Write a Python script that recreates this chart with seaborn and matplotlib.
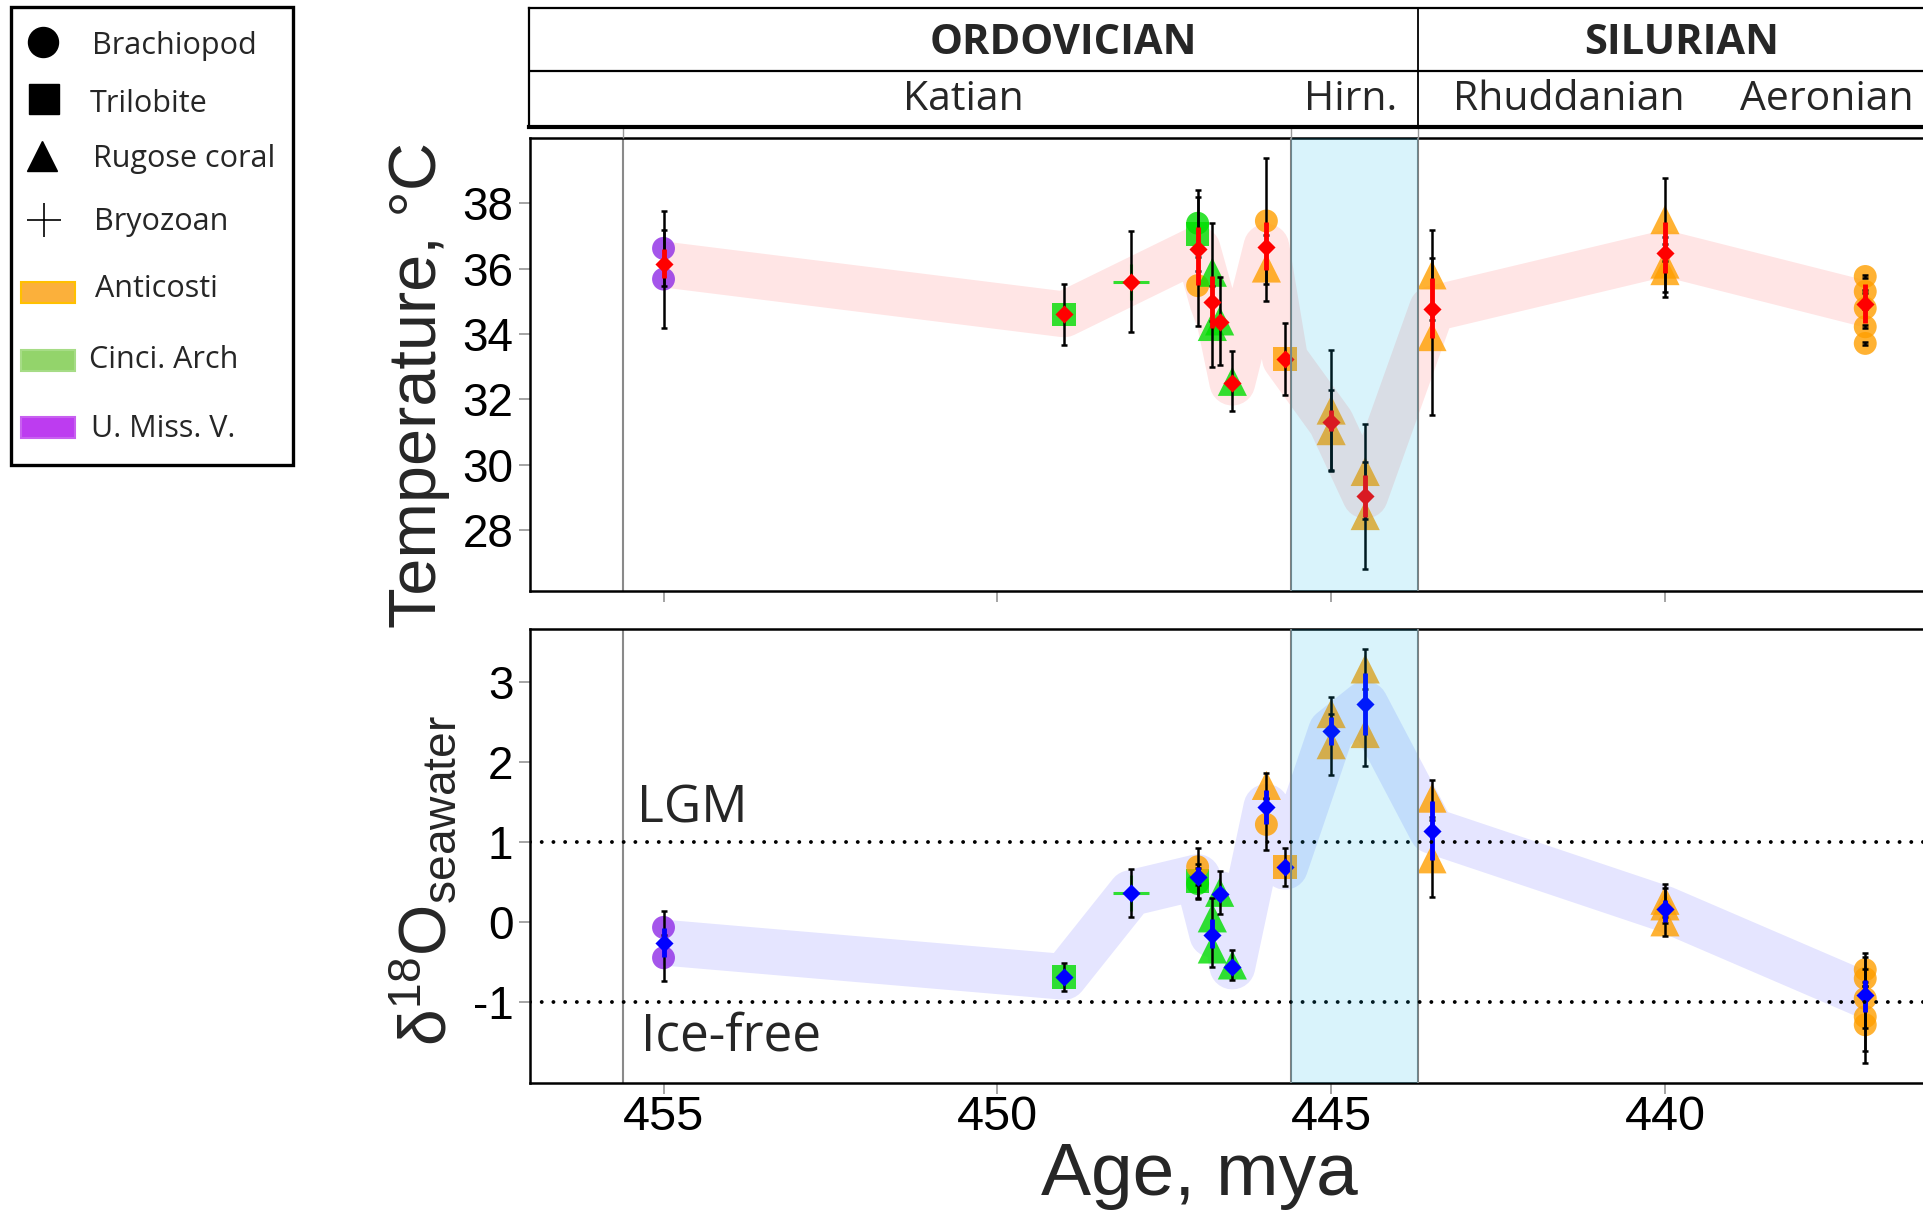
import numpy as np
import pandas as pd
import matplotlib.pyplot as plt
import matplotlib.patches as patches
import seaborn as sns

# Group means (age in Ma)
ages = [455.0, 449.0, 448.0, 447.0, 446.78, 446.67, 446.48, 445.97, 445.69,
        445.0, 444.49, 443.49, 440.0, 437.0]
temp_mean = [36.13, 34.60, 35.60, 36.60, 34.99, 34.38, 32.51, 36.67, 33.24,
             31.29, 29.05, 34.77, 36.47, 34.92]
temp_lo = [35.70, 34.60, 35.60, 35.50, 34.17, 34.38, 32.51, 35.96, 33.24,
           31.04, 28.41, 33.87, 35.86, 34.33]
temp_hi = [36.60, 34.60, 35.60, 37.29, 35.76, 34.38, 32.51, 37.44, 33.24,
           31.67, 29.68, 35.70, 37.44, 35.53]
d18o_mean = [-0.26, -0.69, 0.36, 0.56, -0.16, 0.35, -0.56, 1.44, 0.69,
             2.39, 2.73, 1.14, 0.16, -0.92]
d18o_lo = [-0.44, -0.69, 0.36, 0.50, -0.33, 0.35, -0.56, 1.22, 0.69,
           2.22, 2.34, 0.78, 0.00, -1.13]
d18o_hi = [-0.08, -0.69, 0.36, 0.69, 0.03, 0.35, -0.56, 1.65, 0.69,
           2.57, 3.12, 1.51, 0.27, -0.73]

# Individual specimens
spec_age = [455.0, 455.0, 449.0, 448.0, 447.0, 447.0, 447.0, 446.78, 446.78,
            446.67, 446.48, 445.97, 445.97, 445.69, 445.0, 445.0, 444.49,
            444.49, 443.49, 443.49, 440.0, 440.0, 440.0,
            437.0, 437.0, 437.0, 437.0, 437.0]
spec_taxon = (['Brachiopod', 'Brachiopod', 'Trilobite', 'Bryozoan',
               'Brachiopod', 'Trilobite', 'Brachiopod']
              + ['Rugose coral'] * 4
              + ['Brachiopod', 'Rugose coral', 'Trilobite']
              + ['Rugose coral'] * 9 + ['Brachiopod'] * 5)
spec_site = (['U. Miss. V.'] * 2 + ['Cinci. Arch'] * 4 + ['Anticosti']
             + ['Cinci. Arch'] * 4 + ['Anticosti'] * 17)
spec_temp = [36.62, 35.68, 34.60, 35.60, 37.39, 37.06, 35.48, 35.89, 34.23,
             34.40, 32.55, 37.46, 36.02, 33.24, 31.67, 31.04, 29.79, 28.44,
             35.81, 33.92, 37.50, 36.14, 35.94, 35.76, 35.30, 34.79, 34.22,
             33.71]
spec_temp_err = [1.15, 1.50, 0.94, 1.55, 1.02, 1.12, 1.24, 1.50, 1.25, 1.34,
                 0.92, 1.92, 1.00, 1.10, 1.84, 1.25, 1.45, 1.64, 1.37, 2.40,
                 1.27, 0.84, 0.80, 0.04, 0.04, 0.04, 0.04, 0.04]
spec_d18o = [-0.07, -0.45, -0.69, 0.36, 0.48, 0.51, 0.69, 0.05, -0.34, 0.37,
             -0.54, 1.22, 1.71, 0.69, 2.61, 2.22, 3.17, 2.36, 1.55, 0.79,
             0.00, 0.20, 0.27, -0.60, -0.71, -0.96, -1.19, -1.29]
spec_d18o_err = [0.20, 0.29, 0.18, 0.30, 0.20, 0.21, 0.23, 0.25, 0.22, 0.27,
                 0.19, 0.32, 0.16, 0.24, 0.21, 0.38, 0.25, 0.41, 0.23, 0.48,
                 0.18, 0.22, 0.21, 0.21, 0.27, 0.37, 0.43, 0.48]

site_colors = {'Anticosti': '#ff9f00', 'Cinci. Arch': '#00dd00',
               'U. Miss. V.': '#8f2be6'}
taxon_markers = {'Brachiopod': 'o', 'Trilobite': 's', 'Rugose coral': '^'}
taxon_sizes = {'Brachiopod': 272, 'Trilobite': 289, 'Rugose coral': 441}

periods = ['ORDOVICIAN', 'SILURIAN']
period_x = [449.0, 439.75]
stages = ['Katian', 'Hirn.', 'Rhuddanian', 'Aeronian']
stage_x = [450.5, 444.7, 441.43, 437.58]

hirn_start, hirn_end = 445.6, 443.7
XLIM = (457, 436.12)

df = pd.DataFrame({'age': spec_age, 'taxon': spec_taxon, 'site': spec_site,
                   'temp': spec_temp, 'temp_err': spec_temp_err,
                   'd18o': spec_d18o, 'd18o_err': spec_d18o_err})
groups = pd.DataFrame({'age': ages, 'temp': temp_mean, 'temp_lo': temp_lo,
                       'temp_hi': temp_hi, 'd18o': d18o_mean,
                       'd18o_lo': d18o_lo, 'd18o_hi': d18o_hi})

sns.set_style('ticks')
plt.rcParams['font.family'] = ['Liberation Sans', 'DejaVu Sans']
plt.rcParams['mathtext.fontset'] = 'custom'
plt.rcParams['mathtext.rm'] = 'Liberation Sans'
plt.rcParams['mathtext.it'] = 'Liberation Sans:italic'
MYRIAD = ['Open Sans', 'DejaVu Sans']

W, H = 1924, 1211
fig = plt.figure(figsize=(W / 100, H / 100), dpi=100)


def panel(ax, col, mean_color):
    # broad band through the group means
    ax.plot(groups['age'], groups[col], color=mean_color, alpha=0.1, lw=33,
            solid_joinstyle='round', solid_capstyle='butt', zorder=1)
    filled = df[df['taxon'] != 'Bryozoan']
    sns.scatterplot(data=filled, x='age', y=col, hue='site', style='taxon',
                    size='taxon', palette=site_colors, markers=taxon_markers,
                    sizes=taxon_sizes, alpha=0.8, linewidth=0, legend=False,
                    ax=ax, zorder=3)
    bry = df[df['taxon'] == 'Bryozoan']
    for _, r in bry.iterrows():
        ax.plot(r['age'], r[col], '+', ms=26, mew=2.2, alpha=0.8,
                color=site_colors[r['site']], zorder=3)
    ax.errorbar(df['age'], df[col], yerr=df[col + '_err'], fmt='none',
                ecolor='black', elinewidth=1.8, capsize=2.5, capthick=1.8,
                zorder=4)
    ax.errorbar(groups['age'], groups[col],
                yerr=[groups[col] - groups[col + '_lo'],
                      groups[col + '_hi'] - groups[col]],
                fmt='none', ecolor=mean_color, elinewidth=3.5, zorder=5)
    ax.scatter(groups['age'], groups[col], marker='D', s=85,
               color=mean_color, linewidth=0, zorder=6)
    ax.axvline(455.6, color='#8a8a8a', lw=1.5, zorder=0)
    for xv in (hirn_start, hirn_end):
        ax.axvline(xv, color='#808080', lw=1.5, zorder=7)
    ax.axvspan(hirn_start, hirn_end, color=(0, 0.7, 0.9), alpha=0.15,
               lw=0, zorder=10)
    ax.set_xlim(*XLIM)
    ax.set_xticks([455, 450, 445, 440])
    ax.set_xlabel('')
    ax.set_ylabel('')
    ax.spines['right'].set_visible(False)
    for s in ('left', 'top', 'bottom'):
        ax.spines[s].set_linewidth(1.8)
        ax.spines[s].set_color('black')
    ax.tick_params(axis='both', direction='out', length=8, width=1.1,
                   color='#8c8c8c', labelcolor='black')


# Temperature panel
ax_t = fig.add_axes([530 / W, 1 - 591 / H, 1 - 530 / W, 453 / H])
panel(ax_t, 'temp', 'red')
ax_t.set_ylim(26.13, 40)
ax_t.set_yticks([28, 30, 32, 34, 36, 38])
ax_t.tick_params(axis='x', labelbottom=False)
ax_t.tick_params(axis='y', labelsize=33, pad=4)

# d18O seawater panel
ax_b = fig.add_axes([530 / W, 1 - 1083 / H, 1 - 530 / W, 454 / H])
panel(ax_b, 'd18o', 'blue')
ax_b.set_ylim(-2.02, 3.67)
ax_b.set_yticks([-1, 0, 1, 2, 3])
ax_b.set_yticklabels(['-1', '0', '1', '2', '3'])
ax_b.tick_params(axis='y', labelsize=33, pad=4)
ax_b.tick_params(axis='x', labelsize=35, pad=1)
for yv in (1, -1):
    ax_b.axhline(yv, color='black', lw=2.8, ls=(0, (0.01, 3.0)),
                 dash_capstyle='round', zorder=8)
ax_b.text(455.39, 1.24, 'LGM', fontsize=37, family=MYRIAD, va='baseline')
ax_b.text(455.33, -1.61, 'Ice-free', fontsize=37, family=MYRIAD,
          va='baseline')

# Axis titles
fig.text(419 / W, 1 - 385 / H, 'Temperature, °C', rotation=90, ha='center',
         va='center', fontsize=48)
fig.text(425 / W, 1 - 880 / H, r'$\mathrm{δ}^{18}\mathrm{O}_{\mathrm{seawater}}$',
         rotation=90, ha='center', va='center', fontsize=47.5)
fig.text(1199 / W, 1 - 1195 / H, 'Age, mya', ha='center', va='baseline',
         fontsize=54)

# Chronostratigraphy header
ax_h = fig.add_axes([529 / W, 1 - 127 / H, 1 - 529 / W, 119 / H])
ax_h.set_xlim(*XLIM)
ax_h.set_ylim(0, 1)
ax_h.set_yticks([])
ax_h.set_xticks([455.6, hirn_start, hirn_end])
ax_h.tick_params(axis='x', direction='out', length=8, width=1,
                 color='#999999', labelbottom=False)
ax_h.spines['right'].set_visible(False)
ax_h.spines['top'].set_linewidth(1.6)
ax_h.spines['left'].set_linewidth(1.6)
ax_h.spines['bottom'].set_linewidth(3)
for s in ax_h.spines.values():
    s.set_color('black')
ax_h.axhline(0.473, color='black', lw=1.6)
ax_h.axvline(hirn_end, color='black', lw=1.3)
for name, xv in zip(periods, period_x):
    ax_h.text(xv, 0.70, name, ha='center', va='center', fontsize=30,
              fontweight='bold', family=MYRIAD)
for name, xv in zip(stages, stage_x):
    ax_h.text(xv, 0.225, name, ha='center', va='center', fontsize=29.5,
              family=MYRIAD)

# Legend box
ax_l = fig.add_axes([0, 1 - 470 / H, 300 / W, 470 / H])
ax_l.set_xlim(0, 300)
ax_l.set_ylim(470, 0)
ax_l.axis('off')
ax_l.add_patch(patches.Rectangle((11, 7), 282, 458, fill=False, lw=2.4,
                                 ec='black'))
ax_l.plot(43, 42, 'o', ms=21.6, color='black')
ax_l.plot(44, 99, 's', ms=21, color='black')
ax_l.plot(42, 156, '^', ms=21.6, color='black')
ax_l.plot(44, 220, '+', ms=24, mew=1.2, color='black')
leg_rects = [(282, '#fbb03b', '#ffc000'), (350, '#93d46b', '#a6dc86'),
             (417, '#bd3cf0', '#c860f0')]
for y0, fc, ec in leg_rects:
    ax_l.add_patch(patches.Rectangle((21, y0), 54, 21, fc=fc, ec=ec, lw=1.5))
leg_text = [('Brachiopod', 92, 54), ('Trilobite', 90, 112),
            ('Rugose coral', 93, 167), ('Bryozoan', 94, 230),
            ('Anticosti', 95, 297), ('Cinci. Arch', 89, 368),
            ('U. Miss. V.', 91, 437)]
for label, x, y in leg_text:
    ax_l.text(x, y, label, fontsize=22, family=MYRIAD, va='baseline')

fig.savefig('out.png', dpi=100)
